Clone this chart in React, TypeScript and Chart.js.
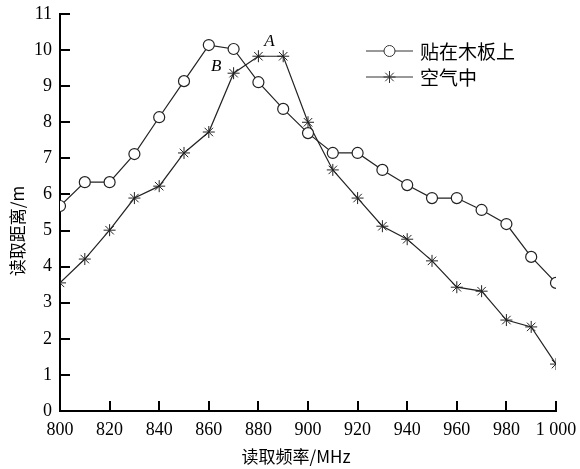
import React, { useEffect, useRef } from "react";
import { Chart, registerables } from "chart.js";

Chart.register(...registerables);

const frequencies = [800, 810, 820, 830, 840, 850, 860, 870, 880, 890, 900, 910, 920, 930, 940, 950, 960, 970, 980, 990, 1000];
const onBoard = [5.68, 6.34, 6.34, 7.12, 8.14, 9.14, 10.14, 10.03, 9.11, 8.37, 7.7, 7.15, 7.15, 6.68, 6.26, 5.9, 5.9, 5.57, 5.18, 4.27, 3.55];
const inAir = [3.55, 4.21, 5.01, 5.9, 6.23, 7.15, 7.73, 9.36, 9.83, 9.83, 8.0, 6.68, 5.9, 5.12, 4.76, 4.16, 3.43, 3.32, 2.52, 2.33, 1.3];
const seriesNames = ["贴在木板上", "空气中"];
const xTicks = [800, 820, 840, 860, 880, 900, 920, 940, 960, 980, 1000];
const yTicks = [0, 1, 2, 3, 4, 5, 6, 7, 8, 9, 10, 11];
const annotations = [
  { text: "A", x: 884.5, y: 10.25 },
  { text: "B", x: 863, y: 9.55 },
];
const xTitle = "读取频率/MHz";
const yTitle = "读取距离/m";

const SERIF = '"Liberation Serif", "DejaVu Serif", serif';
const CJK = '"Noto Sans CJK SC", "Liberation Serif", serif';

const overlay = {
  id: "overlay",
  afterDraw(chart: any) {
    const ctx = chart.ctx;
    const xs = chart.scales.x;
    const ys = chart.scales.y;
    const area = chart.chartArea;
    ctx.save();
    // annotations
    ctx.fillStyle = "#000";
    ctx.font = "italic 17px " + SERIF;
    ctx.textAlign = "center";
    ctx.textBaseline = "middle";
    for (const a of annotations) {
      ctx.fillText(a.text, xs.getPixelForValue(a.x), ys.getPixelForValue(a.y));
    }
    // legend
    const lx0 = 366, lx1 = 413, ly = [51, 77];
    const styles = ["circle", "star"];
    for (let i = 0; i < 2; i++) {
      ctx.lineWidth = 1;
      ctx.strokeStyle = "#333";
      ctx.beginPath();
      ctx.moveTo(lx0, ly[i]);
      ctx.lineTo(lx1, ly[i]);
      ctx.stroke();
      if (styles[i] === "circle") {
        ctx.beginPath();
        ctx.arc((lx0 + lx1) / 2, ly[i], 5.5, 0, Math.PI * 2);
        ctx.fillStyle = "#fff";
        ctx.fill();
        ctx.stroke();
      } else {
        const cx = (lx0 + lx1) / 2, r = 6;
        ctx.beginPath();
        for (let k = 0; k < 4; k++) {
          const ang = (k * Math.PI) / 4;
          ctx.moveTo(cx - r * Math.cos(ang), ly[i] - r * Math.sin(ang));
          ctx.lineTo(cx + r * Math.cos(ang), ly[i] + r * Math.sin(ang));
        }
        ctx.stroke();
      }
      ctx.fillStyle = "#000";
      ctx.font = "19px " + CJK;
      ctx.textAlign = "left";
      ctx.textBaseline = "middle";
      ctx.fillText(seriesNames[i], 420, ly[i] + 1);
    }
    // axis titles
    ctx.fillStyle = "#000";
    ctx.font = "17px " + CJK;
    ctx.textAlign = "center";
    ctx.textBaseline = "middle";
    ctx.fillText(xTitle, 296, 457);
    ctx.save();
    ctx.translate(18, 231);
    ctx.rotate(-Math.PI / 2);
    ctx.fillText(yTitle, 0, 0);
    ctx.restore();
    // inward ticks
    ctx.fillStyle = "#000";
    for (const v of xTicks) {
      const px = Math.round(xs.getPixelForValue(v));
      ctx.fillRect(px - 1, area.bottom - 10, 2, 10);
    }
    for (const v of yTicks) {
      const py = Math.round(ys.getPixelForValue(v));
      ctx.fillRect(area.left, py - 1, 10, 2);
    }
    ctx.restore();
  },
};

export default function App() {
  const ref = useRef<HTMLCanvasElement>(null);
  useEffect(() => {
    document.body.style.margin = "0";
    const canvas = ref.current!;
    const chart = new Chart(canvas, {
      type: "line",
      data: {
        datasets: [
          {
            label: seriesNames[0],
            data: frequencies.map((f, i) => ({ x: f, y: onBoard[i] })),
            borderColor: "#222",
            borderWidth: 1.2,
            pointStyle: "circle",
            pointRadius: 5.5,
            pointBackgroundColor: "#fff",
            pointBorderColor: "#222",
            pointBorderWidth: 1.2,
            tension: 0,
          },
          {
            label: seriesNames[1],
            data: frequencies.map((f, i) => ({ x: f, y: inAir[i] })),
            borderColor: "#222",
            borderWidth: 1.2,
            pointStyle: "star",
            pointRadius: 6,
            pointBorderColor: "#222",
            pointBorderWidth: 1,
            tension: 0,
          },
        ],
      },
      options: {
        animation: false,
        responsive: false,
        layout: { padding: { left: 0, right: 24, top: 14, bottom: 0 } },
        plugins: { legend: { display: false }, tooltip: { enabled: false } },
        scales: {
          x: {
            type: "linear",
            min: 800,
            max: 1000,
            afterBuildTicks: (s: any) => {
              s.ticks = xTicks.map((v) => ({ value: v }));
            },
            afterFit: (s: any) => {
              s.height = 58;
              s.paddingLeft = 0;
              s.paddingRight = 0;
            },
            grid: { drawOnChartArea: false, drawTicks: false },
            border: { display: true, color: "#000", width: 2 },
            ticks: {
              color: "#000",
              font: { family: SERIF, size: 18 },
              padding: 8,
              maxRotation: 0,
              autoSkip: false,
              callback: (v: any) => (Number(v) === 1000 ? "1 000" : String(v)),
            },
          },
          y: {
            type: "linear",
            min: 0,
            max: 11,
            afterBuildTicks: (s: any) => {
              s.ticks = yTicks.map((v) => ({ value: v }));
            },
            afterFit: (s: any) => {
              s.width = 60;
              s.paddingTop = 0;
              s.paddingBottom = 0;
            },
            grid: { drawOnChartArea: false, drawTicks: false },
            border: { display: true, color: "#000", width: 2 },
            ticks: {
              color: "#000",
              font: { family: SERIF, size: 18 },
              padding: 8,
              autoSkip: false,
            },
          },
        },
      },
      plugins: [overlay],
    });
    return () => chart.destroy();
  }, []);
  return (
    <div style={{ width: 580, height: 469, background: "#fff" }}>
      <canvas ref={ref} width={580} height={469} style={{ display: "block" }} />
    </div>
  );
}
